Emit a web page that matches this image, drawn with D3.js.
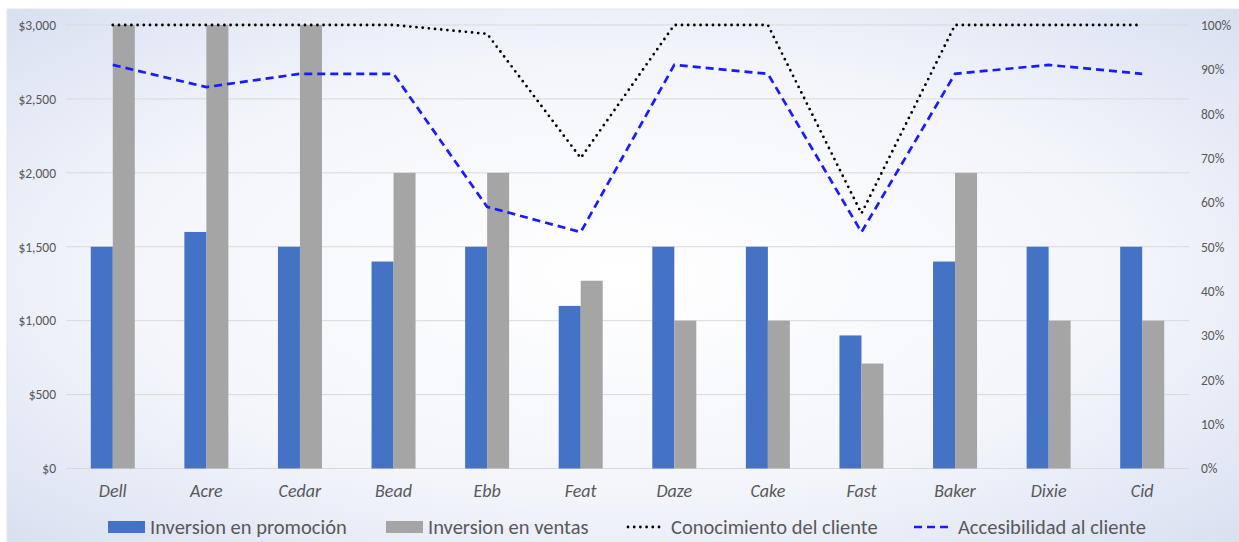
<!DOCTYPE html>
<html>
<head>
<meta charset="utf-8">
<script src="https://cdn.jsdelivr.net/npm/d3@7"></script>
<style>
  html, body { margin: 0; padding: 0; background: #ffffff; }
  svg { display: block; }
</style>
</head>
<body>
<svg id="chart" width="1239" height="542"></svg>
<script>
// Categories and series
const categories = ["Dell", "Acre", "Cedar", "Bead", "Ebb", "Feat", "Daze", "Cake", "Fast", "Baker", "Dixie", "Cid"];
const promocion = [1500, 1600, 1500, 1400, 1500, 1100, 1500, 1500, 900, 1400, 1500, 1500];
const ventas = [3000, 3000, 3000, 2000, 2000, 1270, 1000, 1000, 710, 2000, 1000, 1000];
const conocimiento = [1.00, 1.00, 1.00, 1.00, 0.98, 0.70, 1.00, 1.00, 0.575, 1.00, 1.00, 1.00];
const accesibilidad = [0.91, 0.86, 0.89, 0.89, 0.59, 0.533, 0.91, 0.89, 0.533, 0.89, 0.91, 0.89];

// Axis ticks
const leftTicks = [0, 500, 1000, 1500, 2000, 2500, 3000];
const rightTicks = [0, 0.1, 0.2, 0.3, 0.4, 0.5, 0.6, 0.7, 0.8, 0.9, 1.0];

const legendItems = [
  { name: "Inversion en promoción", type: "bar", color: "#4472C4" },
  { name: "Inversion en ventas", type: "bar", color: "#A5A5A5" },
  { name: "Conocimiento del cliente", type: "dot", color: "#000000" },
  { name: "Accesibilidad al cliente", type: "dash", color: "#1a1aff" }
];

const FONT = "Calibri, Carlito, 'Liberation Sans', Arial, sans-serif";
const svg = d3.select("#chart");
const W = 1239, H = 542;
const plot = { left: 66, right: 1189, top: 25, bottom: 468.5 };

// Background panel with soft gradient
const defs = svg.append("defs");
const grad = defs.append("radialGradient")
  .attr("id", "bg").attr("cx", "50%").attr("cy", "50%").attr("r", "75%");
grad.append("stop").attr("offset", "0%").attr("stop-color", "#ffffff");
grad.append("stop").attr("offset", "55%").attr("stop-color", "#f3f5fb");
grad.append("stop").attr("offset", "100%").attr("stop-color", "#d4ddef");

svg.append("rect").attr("x", 0).attr("y", 0).attr("width", W).attr("height", H).attr("fill", "#ffffff");
svg.append("rect").attr("x", 7).attr("y", 9).attr("width", W - 7).attr("height", H - 9)
  .attr("fill", "url(#bg)").attr("stroke", "#e3e6ec").attr("stroke-width", 1);

// Scales
const x = d3.scaleBand().domain(categories).range([plot.left, plot.right]).paddingInner(0).paddingOuter(0);
const yL = d3.scaleLinear().domain([0, 3000]).range([plot.bottom, plot.top]);
const yR = d3.scaleLinear().domain([0, 1]).range([plot.bottom, plot.top]);

// Gridlines
svg.append("g").selectAll("line").data(leftTicks).join("line")
  .attr("x1", plot.left).attr("x2", plot.right)
  .attr("y1", d => yL(d)).attr("y2", d => yL(d))
  .attr("stroke", "#d9d9d9").attr("stroke-width", 1);

// Left axis
const leftAxis = d3.axisLeft(yL).tickValues(leftTicks).tickSize(0).tickPadding(0)
  .tickFormat(d => "$" + d3.format(",")(d));
const gL = svg.append("g").attr("transform", `translate(${plot.left - 10},0)`).call(leftAxis);
gL.select(".domain").remove();
gL.selectAll("text").attr("fill", "#595959").attr("font-family", FONT).attr("font-size", 13.5);

// Right axis
const rightAxis = d3.axisRight(yR).tickValues(rightTicks).tickSize(0).tickPadding(0)
  .tickFormat(d3.format(".0%"));
const gR = svg.append("g").attr("transform", `translate(${plot.right + 12},0)`).call(rightAxis);
gR.select(".domain").remove();
gR.selectAll("text").attr("fill", "#595959").attr("font-family", FONT).attr("font-size", 13.5);

// Bars
const barW = 22;
const bars = svg.append("g");
bars.selectAll("rect.promo").data(categories).join("rect")
  .attr("class", "promo")
  .attr("x", d => x(d) + x.bandwidth() / 2 - barW)
  .attr("width", barW)
  .attr("y", (d, i) => yL(promocion[i]))
  .attr("height", (d, i) => yL(0) - yL(promocion[i]))
  .attr("fill", "#4472C4");
bars.selectAll("rect.ventas").data(categories).join("rect")
  .attr("class", "ventas")
  .attr("x", d => x(d) + x.bandwidth() / 2)
  .attr("width", barW)
  .attr("y", (d, i) => yL(ventas[i]))
  .attr("height", (d, i) => yL(0) - yL(ventas[i]))
  .attr("fill", "#A5A5A5");

// Category labels
svg.append("g").selectAll("text").data(categories).join("text")
  .attr("x", d => x(d) + x.bandwidth() / 2)
  .attr("y", 497)
  .attr("text-anchor", "middle")
  .attr("font-family", FONT)
  .attr("font-style", "italic")
  .attr("font-size", 18)
  .attr("fill", "#595959")
  .text(d => d);

// Lines on the percentage axis
const line = d3.line()
  .x((d, i) => x(categories[i]) + x.bandwidth() / 2)
  .y(d => yR(d))
  .curve(d3.curveLinear);

svg.append("path").datum(conocimiento)
  .attr("d", line)
  .attr("fill", "none")
  .attr("stroke", "#000000")
  .attr("stroke-width", 2.8)
  .attr("stroke-linecap", "round")
  .attr("stroke-dasharray", "0,6.2");

svg.append("path").datum(accesibilidad)
  .attr("d", line)
  .attr("fill", "none")
  .attr("stroke", "#1a1aff")
  .attr("stroke-width", 2.7)
  .attr("stroke-dasharray", "8,5");

// Legend: marker start, marker width, text start
const legendPos = [
  { x: 108, w: 37, tx: 150 },
  { x: 386, w: 37, tx: 428 },
  { x: 627, w: 35, tx: 671 },
  { x: 914, w: 37, tx: 958 }
];
const legend = svg.append("g");
legendItems.forEach((item, i) => {
  const p = legendPos[i];
  const g = legend.append("g").attr("transform", `translate(0,527)`);
  if (item.type === "bar") {
    g.append("rect").attr("x", p.x).attr("y", -6).attr("width", p.w).attr("height", 12).attr("fill", item.color);
  } else if (item.type === "dot") {
    g.append("line").attr("x1", p.x + 1).attr("x2", p.x + p.w).attr("y1", 0).attr("y2", 0)
      .attr("stroke", item.color).attr("stroke-width", 2.8).attr("stroke-linecap", "round")
      .attr("stroke-dasharray", "0,6.2");
  } else {
    g.append("line").attr("x1", p.x).attr("x2", p.x + p.w).attr("y1", 0).attr("y2", 0)
      .attr("stroke", item.color).attr("stroke-width", 2.7).attr("stroke-dasharray", "8,5");
  }
  g.append("text")
    .attr("x", p.tx)
    .attr("y", 0)
    .attr("dy", "0.35em")
    .attr("font-family", FONT)
    .attr("font-size", 20.5)
    .attr("fill", "#595959")
    .text(item.name);
});
</script>
</body>
</html>
